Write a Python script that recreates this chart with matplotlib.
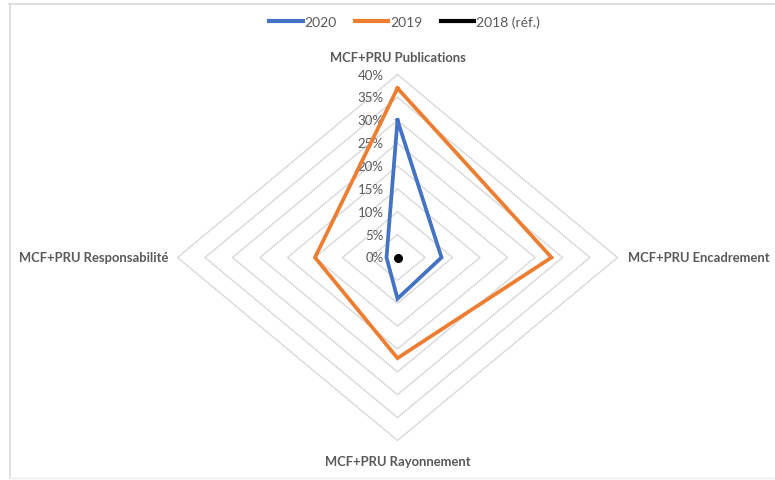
import numpy as np
import matplotlib
matplotlib.use("Agg")
import matplotlib.pyplot as plt
from matplotlib.lines import Line2D

categories = ["MCF+PRU Publications", "MCF+PRU Encadrement",
              "MCF+PRU Rayonnement", "MCF+PRU Responsabilité"]
series_names = ["2020", "2019", "2018 (réf.)"]
values_2020 = [30, 8, 9, 2]
values_2019 = [37, 28, 22, 15]
values_2018 = [0, 0, 0, 0]
tick_values = [0, 5, 10, 15, 20, 25, 30, 35, 40]
tick_labels = ["0%", "5%", "10%", "15%", "20%", "25%", "30%", "35%", "40%"]

colors = ["#4472C4", "#ED7D31", "#000000"]
grid_color = "#D9D9D9"
text_color = "#595959"

plt.rcParams['font.family'] = ['Lato', 'DejaVu Sans']

W, H = 775, 481
fig = plt.figure(figsize=(W / 100, H / 100), dpi=100)
ax = fig.add_axes([0, 0, 1, 1])
cx, cy = 397.5, 258.5
sx, sy = 5.5, 4.575
ax.set_xlim(-cx / sx, (W - cx) / sx)
ax.set_ylim(-(H - cy) / sy, cy / sy)
ax.axis("off")

angles = np.array([0, 90, 180, 270]) * np.pi / 180.0
dx = np.sin(angles)
dy = np.cos(angles)

def closed(vals):
    v = np.asarray(vals, dtype=float)
    xs = v * dx
    ys = v * dy
    return np.append(xs, xs[0]), np.append(ys, ys[0])

for t in tick_values[1:]:
    xs, ys = closed([t] * 4)
    ax.plot(xs, ys, color=grid_color, lw=1.0, zorder=1)

for t, lab in zip(tick_values, tick_labels):
    ax.text(-2.5, t, lab, ha="right", va="center", fontsize=9.5,
            color=text_color, zorder=2)

for vals, col, name in zip([values_2020, values_2019, values_2018], colors, series_names):
    xs, ys = closed(vals)
    if max(vals) == 0:
        ax.plot(xs[:1], ys[:1], color=col, lw=0, zorder=4,
                marker="o", markersize=6.5, markeredgewidth=0)
    else:
        ax.plot(xs, ys, color=col, lw=2.7, zorder=3, solid_joinstyle="miter")

lab_kw = dict(fontsize=9.4, fontweight="bold", color=text_color)
ax.text(0, 40 + 18 / sy, categories[0], ha="center", va="center", **lab_kw)
ax.text(40 + 10 / sx, 0, categories[1], ha="left", va="center", **lab_kw)
ax.text(0, -(40 + 21 / sy), categories[2], ha="center", va="center", **lab_kw)
ax.text(-(40 + 9 / sx), 0, categories[3], ha="right", va="center", **lab_kw)

handles = [Line2D([0], [0], color=c, lw=3) for c in colors]
leg = fig.legend(handles, series_names, loc="center", ncol=3,
                 bbox_to_anchor=(0.522, 1 - 23 / H), frameon=False,
                 fontsize=10, handlelength=2.4, handletextpad=0.15,
                 columnspacing=1.3)
for t in leg.get_texts():
    t.set_color(text_color)

fig.add_artist(Line2D([9 / W, 1], [1 - 4.5 / H, 1 - 4.5 / H], color="#D9D9D9", lw=1.2,
                      transform=fig.transFigure))
fig.add_artist(Line2D([9.5 / W, 9.5 / W], [1 - 4.5 / H, 2.5 / H], color="#D9D9D9", lw=1.2,
                      transform=fig.transFigure))
fig.add_artist(Line2D([9 / W, 1], [2.5 / H, 2.5 / H], color="#EDEDED", lw=1.0,
                      transform=fig.transFigure))

fig.savefig("out.png", dpi=100)
